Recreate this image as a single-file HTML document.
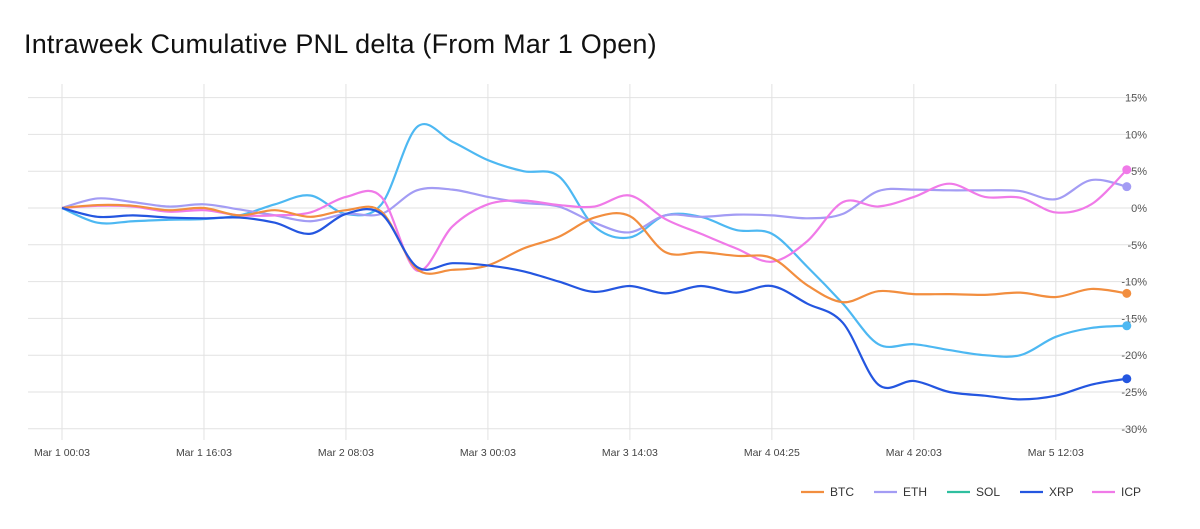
<!DOCTYPE html>
<html><head><meta charset="utf-8"><style>
body{margin:0;background:#fff;font-family:"Liberation Sans",sans-serif;}
#wrap{position:relative;width:1200px;height:529px;overflow:hidden}
h1{position:absolute;left:24px;top:29px;margin:0;font-size:27px;font-weight:normal;color:#111;letter-spacing:0.2px}
</style></head><body>
<div id="wrap">
<h1>Intraweek Cumulative PNL delta (From Mar 1 Open)</h1>
<svg id="chart" width="1200" height="529" style="position:absolute;left:0;top:0"></svg>
</div>
<script>
const hours=[0,4,8,12,16,20,24,28,32,36,40,44,48,52,56,60,64,68,72,76,80,84,88,92,96,100,104,108,112,116,120];
const btc=[0,0.4,0.3,-0.3,0,-1,-0.3,-1.2,-0.3,-0.5,-8.3,-8.4,-7.8,-5.5,-3.9,-1.3,-1.1,-6,-6,-6.5,-6.8,-10.5,-12.8,-11.3,-11.7,-11.7,-11.8,-11.5,-12.1,-11,-11.6];
const eth=[0,1.3,0.8,0.2,0.5,-0.2,-1,-1.8,-0.8,-0.8,2.4,2.5,1.5,0.7,0.2,-2,-3.3,-1,-1.2,-0.9,-1,-1.4,-0.8,2.3,2.5,2.4,2.4,2.3,1.2,3.8,2.9];
const sol=[0,-2,-1.8,-1.6,-1.5,-1,0.5,1.7,-0.8,0.5,11,9,6.5,5,4.3,-2.5,-4,-1,-1.2,-3,-3.5,-8,-13,-18.5,-18.5,-19.3,-20,-20,-17.5,-16.3,-16];
const xrp=[0,-1.2,-1,-1.3,-1.4,-1.3,-2,-3.5,-0.8,-0.8,-8,-7.5,-7.8,-8.6,-10,-11.4,-10.6,-11.6,-10.6,-11.5,-10.6,-13,-15.6,-24,-23.5,-25,-25.5,-26,-25.5,-24,-23.2];
const icp=[0,0.3,0.2,-0.5,-0.3,-1,-1,-0.6,1.5,1.5,-8.5,-2.5,0.5,1,0.4,0.2,1.7,-1.5,-3.5,-5.5,-7.3,-4.5,0.8,0.2,1.5,3.3,1.5,1.4,-0.6,0.5,5.2];
const yTicks=[15,10,5,0,-5,-10,-15,-20,-25,-30];
const xTickHours=[0,16,32,48,64,80,96,112];
const xTickLabels=["Mar 1 00:03","Mar 1 16:03","Mar 2 08:03","Mar 3 00:03","Mar 3 14:03","Mar 4 04:25","Mar 4 20:03","Mar 5 12:03"];
const seriesNames=["BTC","ETH","SOL","XRP","ICP"];
const seriesData=[btc,eth,sol,xrp,icp];
const lineColors=["#f28e3f","#a39cf4","#4db8f2","#2456e0","#f07ae8"];
const legendColors=["#f28e3f","#a39cf4","#2fbf9f","#2456e0","#f07ae8"];
const drawOrder=[2,1,4,0,3];

const NS="http://www.w3.org/2000/svg";
const svg=document.getElementById('chart');
const X=h=>62+h*(1071/120.7);
const Y=v=>208-v*7.36;
function mk(t,a,p){const e=document.createElementNS(NS,t);for(const k in a)e.setAttribute(k,a[k]);(p||svg).appendChild(e);return e;}
yTicks.forEach(v=>{
 const l=mk('line',{x1:28,x2:1140,y1:Y(v),y2:Y(v),stroke:'#e2e2e2','stroke-width':1});
 
 
 const t=mk('text',{x:1147,y:Y(v)+4,'text-anchor':'end','font-size':11,fill:'#555'});
 t.textContent=v+'%';
 
 
});
xTickHours.forEach((h,i)=>{
 const l=mk('line',{x1:X(h),x2:X(h),y1:84,y2:440,stroke:'#e2e2e2','stroke-width':1});
 
 
 const t=mk('text',{x:X(h),y:456,'text-anchor':'middle','font-size':10.5,fill:'#444'});
 t.textContent=xTickLabels[i];
 
 
});
function path(pts){let d=`M${pts[0][0]},${pts[0][1]}`;for(let i=0;i<pts.length-1;i++){const p0=pts[i-1]||pts[i],p1=pts[i],p2=pts[i+1],p3=pts[i+2]||p2;const c1=[p1[0]+(p2[0]-p0[0])/6,p1[1]+(p2[1]-p0[1])/6],c2=[p2[0]-(p3[0]-p1[0])/6,p2[1]-(p3[1]-p1[1])/6];d+=`C${c1[0]},${c1[1]} ${c2[0]},${c2[1]} ${p2[0]},${p2[1]}`;}return d;}
drawOrder.forEach(i=>{
 const pts=seriesData[i].map((v,k)=>[X(hours[k]),Y(v)]);
 const p=mk('path',{d:path(pts),fill:'none',stroke:lineColors[i],'stroke-width':2.2,'stroke-linejoin':'round'});
 
 
 const last=pts[pts.length-1];
 const c=mk('circle',{cx:last[0],cy:last[1],r:4.5,fill:lineColors[i]});
 
 
});
const legendX=[801,874,947,1020,1092];
seriesNames.forEach((n,i)=>{
 const g=mk('g',{});
 
 
 mk('line',{x1:legendX[i],x2:legendX[i]+23,y1:492,y2:492,stroke:legendColors[i],'stroke-width':2.2},g);
 const t=mk('text',{x:legendX[i]+29,y:496,'font-size':12,fill:'#333'},g);
 t.textContent=n;
});
</script>
</body></html>
